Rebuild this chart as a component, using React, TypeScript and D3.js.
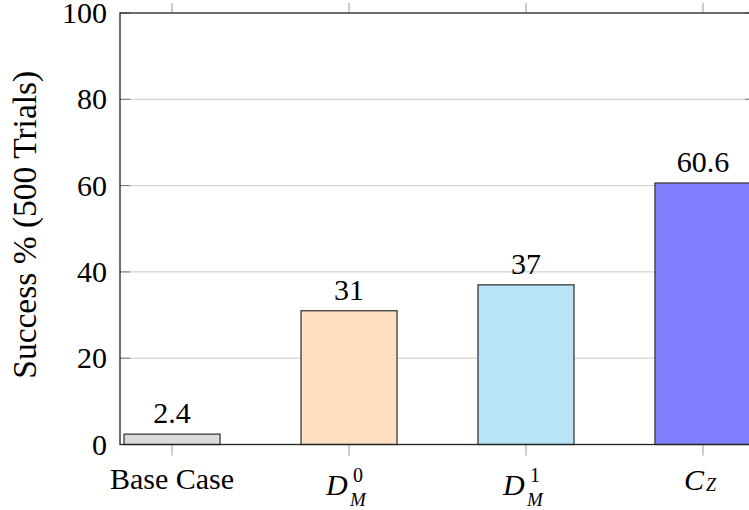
import React from "react";
import * as d3 from "d3";

const categories = ["Base Case", "D0M", "D1M", "CZ"];
const values = [2.4, 31, 37, 60.6];
const valueLabels = ["2.4", "31", "37", "60.6"];
const colors = ["#dcdcdc", "#ffdfc0", "#b9e4f8", "#8080ff"];
const yTicks = [0, 20, 40, 60, 80, 100];

const W = 749;
const H = 510;
const FONT = "'Liberation Serif', 'Times New Roman', serif";

export default function App() {
  const left = 120;
  const right = 755;
  const top = 13;
  const bottom = 444.5;
  const x = d3.scalePoint<string>().domain(categories).range([left, right]).padding(0.294);
  const y = d3.scaleLinear().domain([0, 100]).range([bottom, top]);
  const barW = 96;

  const renderLabel = (c: string, cx: number) => {
    if (c === "Base Case") {
      return (
        <text x={cx} y={489} textAnchor="middle" fontSize={30} fontFamily={FONT}>
          Base Case
        </text>
      );
    }
    if (c === "D0M" || c === "D1M") {
      const sup = c === "D0M" ? "0" : "1";
      return (
        <g>
          <text x={cx - 23} y={495} fontSize={30} fontStyle="italic" fontFamily={FONT}>D</text>
          <text x={cx + 4} y={482} fontSize={20} fontFamily={FONT}>{sup}</text>
          <text x={cx + 1} y={506} fontSize={19} fontStyle="italic" fontFamily={FONT}>M</text>
        </g>
      );
    }
    return (
      <g>
        <text x={cx - 19} y={490} fontSize={30} fontStyle="italic" fontFamily={FONT}>C</text>
        <text x={cx + 3} y={491} fontSize={18} fontStyle="italic" fontFamily={FONT}>Z</text>
      </g>
    );
  };

  return (
    <svg width={W} height={H} style={{ position: "absolute", left: 0, top: 0 }}>
      <rect x={0} y={0} width={W} height={H} fill="#fff" />
      {yTicks.filter((t) => t > 0 && t < 100).map((t) => (
        <line key={"g" + t} x1={left} x2={right} y1={y(t)} y2={y(t)} stroke="#c8c8c8" strokeWidth={1} />
      ))}
      {yTicks.map((t) => (
        <g key={"yt" + t}>
          <line x1={left} x2={left + 10} y1={y(t)} y2={y(t)} stroke="#777" strokeWidth={1} />
          <line x1={right - 10} x2={right} y1={y(t)} y2={y(t)} stroke="#777" strokeWidth={1} />
        </g>
      ))}
      {categories.map((c, i) => {
        const cx = x(c) as number;
        return (
          <rect
            key={c}
            x={cx - barW / 2}
            y={y(values[i])}
            width={barW}
            height={y(0) - y(values[i])}
            fill={colors[i]}
            stroke="#3a3a3a"
            strokeWidth={1.3}
          />
        );
      })}
      {categories.map((c, i) => (
        <text
          key={"v" + c}
          x={x(c) as number}
          y={y(values[i]) - 11}
          textAnchor="middle"
          fontSize={30}
          fontFamily={FONT}
        >
          {valueLabels[i]}
        </text>
      ))}
      {categories.map((c) => {
        const cx = x(c) as number;
        return (
          <g key={"xt" + c}>
            <line x1={cx} x2={cx} y1={top} y2={top - 10} stroke="#999" strokeWidth={1} />
            <line x1={cx} x2={cx} y1={bottom} y2={bottom + 11} stroke="#999" strokeWidth={1} />
          </g>
        );
      })}
      <rect x={left} y={top} width={right - left} height={bottom - top} fill="none" stroke="#222" strokeWidth={1.3} />
      {yTicks.map((t) => (
        <text key={"yl" + t} x={107} y={y(t) + 10} textAnchor="end" fontSize={30} fontFamily={FONT}>
          {t}
        </text>
      ))}
      {categories.map((c) => (
        <g key={"xl" + c}>{renderLabel(c, x(c) as number)}</g>
      ))}
      <text
        transform={`translate(36, ${(top + bottom) / 2 - 4}) rotate(-90)`}
        textAnchor="middle"
        fontSize={33.5}
        fontFamily={FONT}
      >
        Success % (500 Trials)
      </text>
    </svg>
  );
}
